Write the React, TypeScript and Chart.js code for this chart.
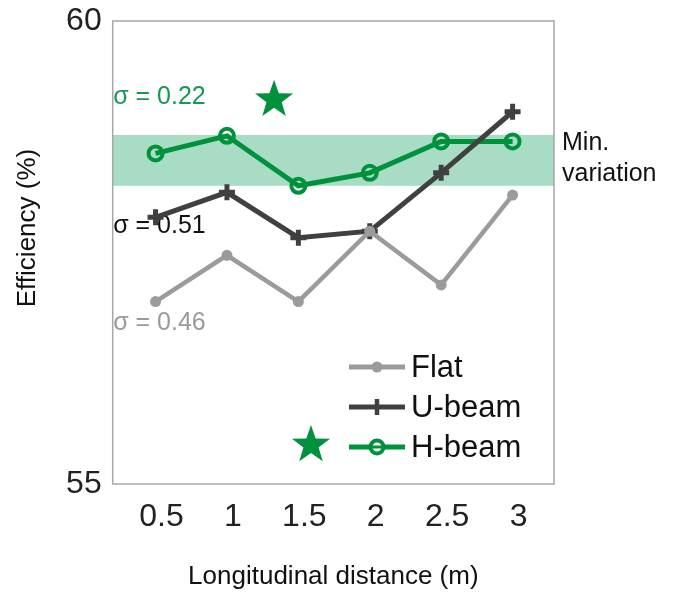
import React, { useEffect, useRef } from "react";
import { Chart, registerables } from "chart.js";

Chart.register(...registerables);

const distances = [0.5, 1, 1.5, 2, 2.5, 3];
const flat = [56.97, 57.47, 56.97, 57.73, 57.15, 58.12];
const uBeam = [57.88, 58.15, 57.66, 57.73, 58.36, 59.02];
const hBeam = [58.57, 58.76, 58.22, 58.36, 58.7, 58.7];
const bandRange = [58.22, 58.77];
const yTicks = [55, 60];
const starPoint = { x: 1.33, y: 59.15 };
const sigmaLabels = [
  { text: "σ = 0.22", y: 59.18, color: "#1a9655" },
  { text: "σ = 0.51", y: 57.78, color: "#111111" },
  { text: "σ = 0.46", y: 56.74, color: "#9a9a9a" },
];
const legendNames = ["Flat", "U-beam", "H-beam"];

const GREEN = "#00913d";
const DARK = "#404040";
const LIGHT = "#9b9b9b";
const BAND = "#a8dcc4";
const FONT = '"Liberation Sans", Arial, sans-serif';

function drawStar(ctx: CanvasRenderingContext2D, cx: number, cy: number, r: number, color: string) {
  const inner = r * 0.4;
  ctx.save();
  ctx.beginPath();
  for (let i = 0; i < 10; i++) {
    const rad = i % 2 === 0 ? r : inner;
    const a = -Math.PI / 2 + (i * Math.PI) / 5;
    const px = cx + rad * Math.cos(a);
    const py = cy + rad * Math.sin(a);
    if (i === 0) ctx.moveTo(px, py);
    else ctx.lineTo(px, py);
  }
  ctx.closePath();
  ctx.fillStyle = color;
  ctx.fill();
  ctx.restore();
}

const decorPlugin = {
  id: "decor",
  beforeDatasetsDraw(chart: any) {
    const { ctx, chartArea, scales } = chart;
    const y = scales.y;
    const x = scales.x;
    ctx.save();
    const yTop = y.getPixelForValue(bandRange[1]);
    const yBot = y.getPixelForValue(bandRange[0]);
    ctx.fillStyle = BAND;
    ctx.fillRect(chartArea.left, yTop, chartArea.right - chartArea.left, yBot - yTop);
    ctx.font = `25px ${FONT}`;
    ctx.textBaseline = "middle";
    ctx.textAlign = "left";
    sigmaLabels.forEach((s) => {
      ctx.fillStyle = s.color;
      ctx.fillText(s.text, chartArea.left + 0.5, y.getPixelForValue(s.y));
    });
    drawStar(ctx, x.getPixelForValue(starPoint.x), y.getPixelForValue(starPoint.y), 20, GREEN);
    ctx.restore();
  },
  afterDraw(chart: any) {
    const { ctx, chartArea } = chart;
    ctx.save();
    ctx.strokeStyle = "#a6a6a6";
    ctx.lineWidth = 1.5;
    ctx.strokeRect(chartArea.left, chartArea.top, chartArea.right - chartArea.left, chartArea.bottom - chartArea.top);

    ctx.fillStyle = "#111111";
    ctx.font = `25px ${FONT}`;
    ctx.textAlign = "left";
    ctx.textBaseline = "middle";
    ctx.fillText("Min.", chartArea.right + 8, 143);
    ctx.fillText("variation", chartArea.right + 8, 174);

    ctx.font = `26px ${FONT}`;
    ctx.textAlign = "center";
    ctx.fillText("Longitudinal distance (m)", (chartArea.left + chartArea.right) / 2, 577);
    ctx.save();
    ctx.translate(28, 228);
    ctx.rotate(-Math.PI / 2);
    ctx.fillText("Efficiency (%)", 0, 0);
    ctx.restore();

    const lx0 = 349;
    const lx1 = 405;
    const lxm = (lx0 + lx1) / 2;
    const ys = [367, 407, 447];
    const colors = [LIGHT, DARK, GREEN];
    ys.forEach((ly, i) => {
      ctx.strokeStyle = colors[i];
      ctx.lineWidth = 5;
      ctx.beginPath();
      ctx.moveTo(lx0, ly);
      ctx.lineTo(lx1, ly);
      ctx.stroke();
      if (i === 0) {
        ctx.fillStyle = LIGHT;
        ctx.beginPath();
        ctx.arc(lxm, ly, 5.5, 0, Math.PI * 2);
        ctx.fill();
      } else if (i === 1) {
        ctx.lineWidth = 4.5;
        ctx.beginPath();
        ctx.moveTo(lxm, ly - 8);
        ctx.lineTo(lxm, ly + 8);
        ctx.stroke();
      } else {
        ctx.fillStyle = "#ffffff";
        ctx.lineWidth = 4;
        ctx.beginPath();
        ctx.arc(lxm, ly, 6.5, 0, Math.PI * 2);
        ctx.fill();
        ctx.stroke();
        ctx.lineWidth = 3;
        ctx.beginPath();
        ctx.moveTo(lxm - 6, ly);
        ctx.lineTo(lxm + 6, ly);
        ctx.stroke();
      }
      ctx.fillStyle = "#111111";
      ctx.font = `31px ${FONT}`;
      ctx.textAlign = "left";
      ctx.textBaseline = "middle";
      ctx.fillText(legendNames[i], 411, ly + 1);
    });
    drawStar(ctx, 311, 445, 20, GREEN);
    ctx.restore();
  },
};

export default function App() {
  const ref = useRef<HTMLCanvasElement | null>(null);

  useEffect(() => {
    document.body.style.margin = "0";
    const canvas = ref.current;
    if (!canvas) return;
    const toPts = (arr: number[]) => arr.map((v, i) => ({ x: distances[i], y: v }));
    const chart = new Chart(canvas, {
      type: "line",
      data: {
        datasets: [
          {
            label: "Flat",
            data: toPts(flat),
            borderColor: LIGHT,
            backgroundColor: LIGHT,
            borderWidth: 4.5,
            pointRadius: 5.5,
            pointStyle: "circle",
            pointBorderWidth: 0,
            pointBackgroundColor: LIGHT,
          },
          {
            label: "U-beam",
            data: toPts(uBeam),
            borderColor: DARK,
            backgroundColor: DARK,
            borderWidth: 5,
            pointRadius: 8,
            pointStyle: "cross",
            pointBorderWidth: 5,
            pointBorderColor: DARK,
          },
          {
            label: "H-beam",
            data: toPts(hBeam),
            borderColor: GREEN,
            backgroundColor: "transparent",
            borderWidth: 5,
            pointRadius: 7,
            pointStyle: "circle",
            pointBorderWidth: 4,
            pointBorderColor: GREEN,
            pointBackgroundColor: "rgba(0,0,0,0)",
          },
        ],
      },
      options: {
        animation: false,
        responsive: false,
        maintainAspectRatio: false,
        layout: { padding: { left: 0, right: 125, top: 21, bottom: 0 } },
        plugins: { legend: { display: false }, tooltip: { enabled: false } },
        scales: {
          x: {
            type: "linear",
            min: 0.2,
            max: 3.29,
            grid: { display: false, drawTicks: false },
            border: { display: false },
            afterBuildTicks: (scale: any) => {
              scale.ticks = distances.map((v) => ({ value: v }));
            },
            afterFit: (scale: any) => {
              scale.height = 596 - 484;
              scale.paddingLeft = 0;
              scale.paddingRight = 0;
            },
            ticks: {
              color: "#222222",
              font: { family: FONT, size: 32 },
              padding: 14,
              labelOffset: 6,
              maxRotation: 0,
              autoSkip: false,
              callback: (v: any) => String(v),
            },
          },
          y: {
            type: "linear",
            min: yTicks[0],
            max: yTicks[1],
            grid: { display: false, drawTicks: false },
            border: { display: false },
            afterBuildTicks: (scale: any) => {
              scale.ticks = yTicks.map((v) => ({ value: v }));
            },
            afterFit: (scale: any) => {
              scale.width = 112.7;
              scale.paddingTop = 0;
              scale.paddingBottom = 0;
            },
            ticks: {
              color: "#222222",
              font: { family: FONT, size: 32 },
              padding: 11,
              callback: (v: any) => String(v),
            },
          },
        },
      },
      plugins: [decorPlugin],
    });
    return () => chart.destroy();
  }, []);

  return (
    <div style={{ width: 679, height: 596, background: "#ffffff" }}>
      <canvas ref={ref} width={679} height={596} style={{ display: "block" }} />
    </div>
  );
}
